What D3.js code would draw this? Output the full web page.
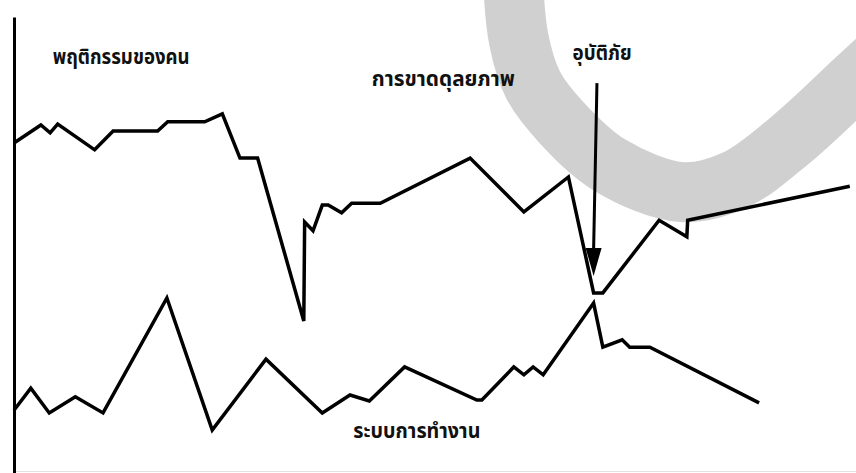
<!DOCTYPE html>
<html lang="th">
<head>
    <meta charset="UTF-8">
    <title>อุบัติภัย</title>
    <script src="https://d3js.org/d3.v7.min.js"></script>
    <style>
        body, html {
            margin: 0;
            padding: 0;
            width: 100%;
            height: 100%;
            overflow: hidden;
            background: #fff;
        }
        .label {
            font-family: "Noto Sans Thai", "Loma", "Garuda", "Noto Sans", sans-serif;
            font-weight: bold;
            font-size: 22px;
            fill: #111;
        }
    </style>
</head>
<body>
    <div id="chart"></div>
    <script>
        // time (0-100) of each reading
        var behaviourX = [0, 3.2, 4.3, 5.2, 9.6, 11.8, 17.1, 18.3, 22.7, 24.8, 26.9, 29.0, 34.5, 34.6, 35.6,
                          36.7, 37.4, 39.0, 40.2, 43.6, 54.3, 60.7, 66.0, 69.0, 70.1, 76.8, 80.1, 80.2, 99.5];
        // level (0-100) of human behaviour
        var behaviourY = [71.1, 75.0, 73.3, 75.2, 69.6, 73.7, 73.7, 75.7, 75.7, 77.4, 67.8, 67.8, 32.4, 53.9, 52.0,
                          57.6, 57.6, 55.9, 58.0, 58.0, 67.8, 56.1, 63.7, 38.5, 38.5, 54.3, 50.7, 54.3, 61.7];

        var systemX = [0, 2.0, 4.2, 7.3, 10.6, 18.2, 23.6, 30.0, 36.7, 40.0, 42.3, 46.5, 55.1, 55.7, 59.5,
                       60.7, 61.8, 63.0, 69.0, 70.1, 72.4, 73.3, 75.7, 88.7];
        var systemY = [13.0, 17.8, 12.4, 15.9, 12.4, 37.4, 8.7, 24.1, 12.4, 16.3, 15.0, 22.4, 15.2, 15.2, 22.4,
                       20.7, 22.4, 20.7, 36.3, 26.7, 28.3, 26.7, 26.7, 14.6];

        // annotation texts and their anchors (data units)
        var labelTexts = ["พฤติกรรมของคน", "การขาดดุลยภาพ", "อุบัติภัย", "ระบบการทำงาน"];
        var labelX = [4.6, 42.6, 66.5, 40.4];
        var labelY = [88.3, 83.5, 89.1, 6.9];
        var labelLen = [137, 143, 59, 127];

        // accident arrow: from, to
        var arrowX = [69.4, 69.0];
        var arrowY = [84.1, 42.2];

        // background watermark stroke
        var markX = [59.4, 60.1, 61.8, 65.1, 70.9, 79.5, 85.8, 92.4, 100.2, 104.3];
        var markY = [106.5, 93.5, 83.7, 75.7, 66.3, 60.4, 63.0, 71.7, 84.8, 91.7];

        var W = 856, H = 473;

        var x = d3.scaleLinear().domain([0, 100]).range([14, 854]);
        var y = d3.scaleLinear().domain([0, 100]).range([470, 10]);

        var svg = d3.select("#chart").append("svg")
            .attr("width", W)
            .attr("height", H);

        // watermark first so that everything sits on top of it
        var markPts = markX.map((d, i) => [d, markY[i]]);
        svg.append("path")
            .attr("d", d3.line().x(d => x(d[0])).y(d => y(d[1])).curve(d3.curveCatmullRom)(markPts))
            .attr("fill", "none")
            .attr("stroke", "#d0d0d0")
            .attr("stroke-width", 60);

        // faint bottom edge
        svg.append("line")
            .attr("x1", x(0)).attr("x2", W)
            .attr("y1", H - 1.5).attr("y2", H - 1.5)
            .attr("stroke", "#e2e2e2")
            .attr("stroke-width", 1);

        // vertical axis, no ticks
        var yAxisScale = y.copy().domain([-0.7, 98.5]).range([473, 17]);
        svg.append("g")
            .attr("transform", "translate(" + x(0) + ",0)")
            .call(d3.axisLeft(yAxisScale).tickValues([]).tickSizeOuter(0))
            .select(".domain")
            .attr("stroke", "#000")
            .attr("stroke-width", 3);

        var line = d3.line().x(d => x(d[0])).y(d => y(d[1]));

        var series = [
            behaviourX.map((d, i) => [d, behaviourY[i]]),
            systemX.map((d, i) => [d, systemY[i]])
        ];

        svg.selectAll("path.series")
            .data(series)
            .enter().append("path")
            .attr("class", "series")
            .attr("d", line)
            .attr("fill", "none")
            .attr("stroke", "#000")
            .attr("stroke-width", 3.5)
            .attr("stroke-linejoin", "miter")
            .attr("stroke-miterlimit", 4);

        // arrow
        svg.append("defs").append("marker")
            .attr("id", "head")
            .attr("viewBox", "0 0 16 28")
            .attr("refX", 8).attr("refY", 27)
            .attr("markerWidth", 16).attr("markerHeight", 28)
            .attr("markerUnits", "userSpaceOnUse")
            .attr("orient", "auto-start-reverse")
            .append("path")
            .attr("d", "M0,0 L16,0 L8,28 Z")
            .attr("fill", "#000");

        var ax0 = x(arrowX[0]), ay0 = y(arrowY[0]), ax1 = x(arrowX[1]), ay1 = y(arrowY[1]);
        svg.append("line")
            .attr("x1", ax0).attr("y1", ay0)
            .attr("x2", ax1).attr("y2", ay1 - 26)
            .attr("stroke", "#000")
            .attr("stroke-width", 3);
        svg.append("path")
            .attr("d", "M" + (ax1 - 8) + "," + (ay1 - 28) + " L" + (ax1 + 8) + "," + (ay1 - 28) + " L" + ax1 + "," + ay1 + " Z")
            .attr("fill", "#000");

        // labels
        svg.selectAll("text.label")
            .data(labelTexts)
            .enter().append("text")
            .attr("class", "label")
            .attr("x", (d, i) => x(labelX[i]))
            .attr("y", (d, i) => y(labelY[i]))
            .attr("textLength", (d, i) => labelLen[i])
            .attr("lengthAdjust", "spacingAndGlyphs")
            .text(d => d);
    </script>
</body>
</html>
